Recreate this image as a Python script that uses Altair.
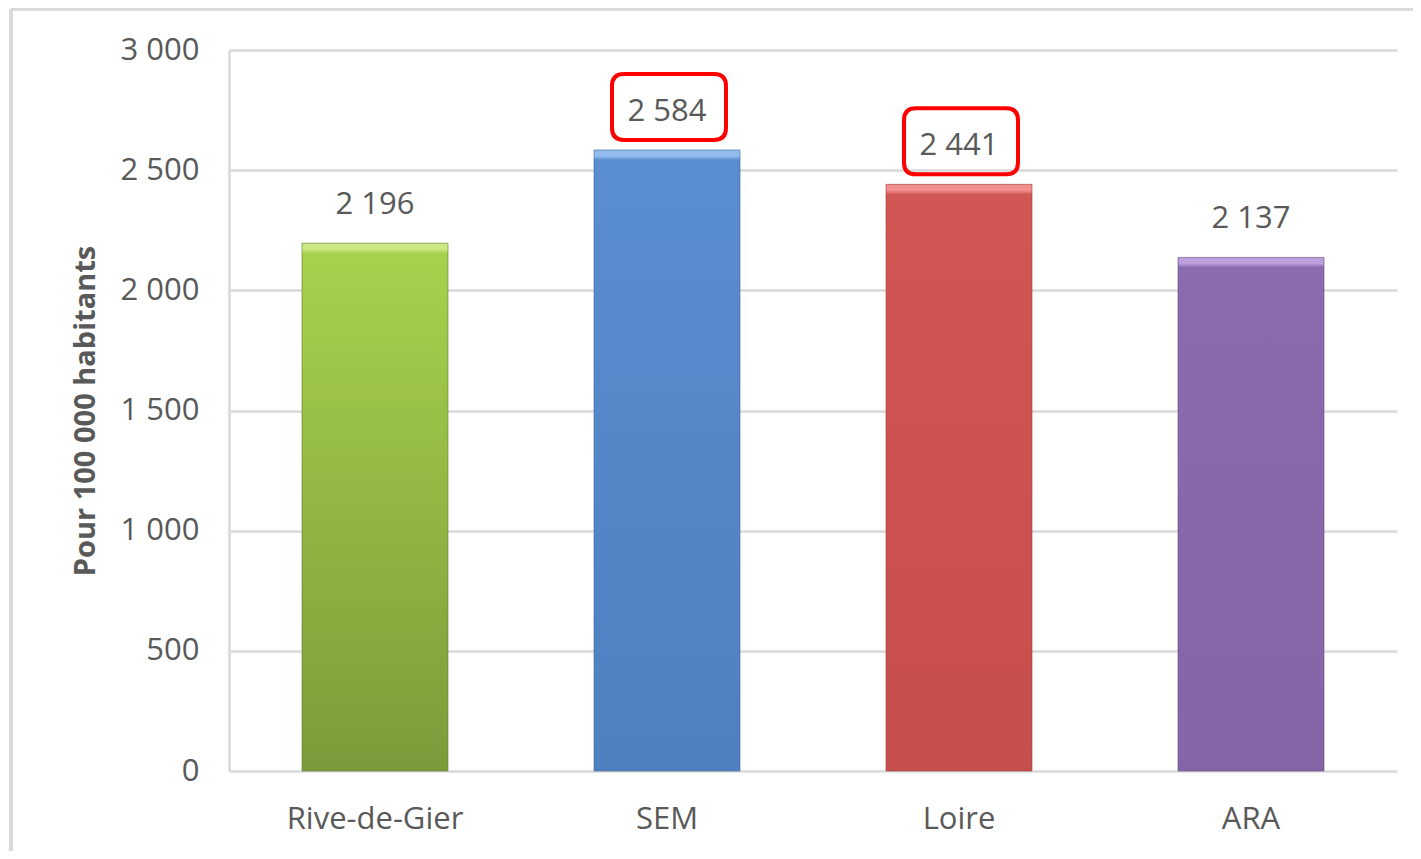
import altair as alt
import pandas as pd

categories = ["Rive-de-Gier", "SEM", "Loire", "ARA"]
values = [2196, 2584, 2441, 2137]
highlight = [False, True, True, False]
tick_values = [0, 500, 1000, 1500, 2000, 2500, 3000]

# per-bar gradient colours: (bevel highlight, body top, body bottom, edge)
bar_colors = {
    "Rive-de-Gier": ("#cbe985", "#a7d14c", "#7b9b3a", "#5f7a2c"),
    "SEM": ("#93bcee", "#5a8cd0", "#4f80c0", "#3d6598"),
    "Loire": ("#f3908d", "#d15755", "#c64e4c", "#9c3c3a"),
    "ARA": ("#bba0dc", "#8a6bae", "#8465a7", "#604a80"),
}

W, H = 1168, 721
FONT = "Open Sans"
GREY = "#595959"
LINE = "#d9d9d9"

df = pd.DataFrame({"cat": categories, "val": values, "hl": highlight})
df["lab"] = [f"{v:,}".replace(",", " ") for v in values]

base = alt.Chart(df)

xenc = alt.X(
    "cat:N",
    sort=categories,
    scale=alt.Scale(paddingInner=0.5, paddingOuter=0.25),
    axis=alt.Axis(
        title=None, domain=False, ticks=False, tickSize=0, labelAngle=0,
        labelFont=FONT, labelFontSize=31, labelColor=GREY, labelPadding=33,
    ),
)
yenc = alt.Y(
    "val:Q",
    scale=alt.Scale(domain=[0, 3000], nice=False),
    axis=alt.Axis(
        values=tick_values,
        labelExpr="replace(format(datum.value, ','), ',', ' ')",
        title="Pour 100 000 habitants",
        titleFont=FONT, titleFontSize=29, titleFontWeight="bold", titleColor=GREY,
        titleAngle=270, titleAlign="center", titleBaseline="middle",
        titleX=-144, titleY=H / 2,
        labelFont=FONT, labelFontSize=31, labelColor=GREY, labelPadding=30,
        ticks=False, tickSize=0,
        domain=True, domainColor=LINE, domainWidth=2.5,
        grid=True, gridColor=LINE, gridWidth=2.5,
    ),
)

layers = []

# decorative outer frame (top and left edges)
frame_left = base.mark_rule(color=LINE, strokeWidth=3).encode(
    x=alt.value(-218), y=alt.value(-41), y2=alt.value(H + 90)
)
frame_top = base.mark_rule(color=LINE, strokeWidth=3).encode(
    x=alt.value(-218), x2=alt.value(W + 30), y=alt.value(-41)
)
layers += [frame_left, frame_top]

for cat, v in zip(categories, values):
    hi, top, bot, edge = bar_colors[cat]
    bevel = 10.0 / (v / 3000 * H)
    grad = alt.LinearGradient(
        gradient="linear", x1=0, y1=0, x2=0, y2=1,
        stops=[
            alt.GradientStop(offset=0, color=hi),
            alt.GradientStop(offset=bevel * 0.6, color=hi),
            alt.GradientStop(offset=bevel, color=top),
            alt.GradientStop(offset=1, color=bot),
        ],
    )
    layers.append(
        base.transform_filter(alt.datum.cat == cat)
        .mark_bar(color=grad, stroke=edge, strokeWidth=1, strokeOpacity=0.6)
        .encode(x=xenc, y=yenc)
    )

labels = base.mark_text(
    font=FONT, fontSize=31, color=GREY, baseline="middle", dy=-38
).encode(x=xenc, y=yenc, text="lab:N")
layers.append(labels)

# rounded red boxes around highlighted labels (unit path, scaled by size)
rr = 0.21
hy = 66 / 114
box_path = (
    f"M {-1 + rr} {-hy} L {1 - rr} {-hy} Q 1 {-hy} 1 {-hy + rr} "
    f"L 1 {hy - rr} Q 1 {hy} {1 - rr} {hy} L {-1 + rr} {hy} "
    f"Q -1 {hy} -1 {hy - rr} L -1 {-hy + rr} Q -1 {-hy} {-1 + rr} {-hy} Z"
)
boxes = base.transform_filter(alt.datum.hl == True).mark_point(
    shape=box_path, size=114 * 114, filled=False, stroke="#ff0000",
    strokeWidth=4, opacity=1, yOffset=-43, xOffset=2,
).encode(x=xenc, y=yenc)
layers.append(boxes)

chart = (
    alt.layer(*layers)
    .properties(
        width=W, height=H,
        autosize=alt.AutoSizeParams(type="none"),
        padding={"left": 221, "top": 42, "right": 16, "bottom": 80},
        background="white",
    )
    .configure_view(stroke=None)
)

chart.save("out.html", embed_options={"renderer": "svg", "actions": False})
